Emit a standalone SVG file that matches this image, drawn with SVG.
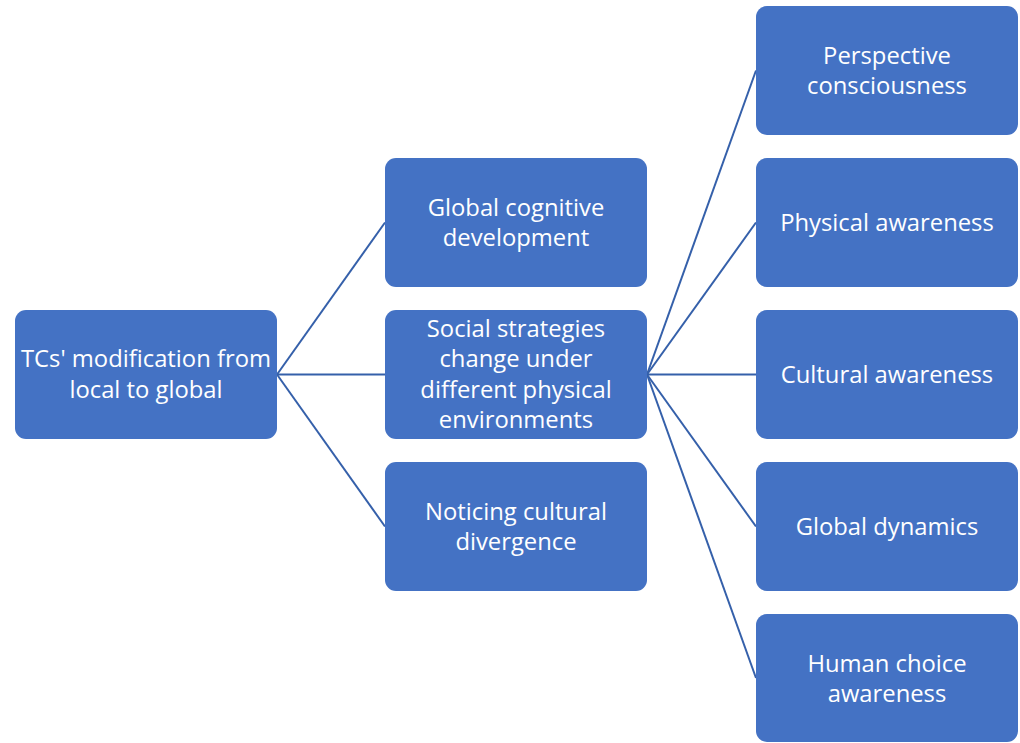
<svg xmlns="http://www.w3.org/2000/svg" width="1020" height="743" viewBox="0 0 1020 743">
  <style>
    .box { fill: #4472C4; }
    .lbl { fill: #FFFFFF; font-family: "Open Sans", "Noto Sans", sans-serif; font-size: 23.8px; text-anchor: middle; }
    .link { stroke: #3560AA; stroke-width: 2; fill: none; }
  </style>
  <rect width="1020" height="743" fill="#FFFFFF"/>

  <g id="connectors">
    <line class="link" x1="277" y1="374.5" x2="385" y2="222.5"/>
    <line class="link" x1="277" y1="374.5" x2="385" y2="374.5"/>
    <line class="link" x1="277" y1="374.5" x2="385" y2="526.5"/>
    <line class="link" x1="647" y1="374.5" x2="756" y2="70.5"/>
    <line class="link" x1="647" y1="374.5" x2="756" y2="222.5"/>
    <line class="link" x1="647" y1="374.5" x2="756" y2="374.5"/>
    <line class="link" x1="647" y1="374.5" x2="756" y2="526.5"/>
    <line class="link" x1="647" y1="374.5" x2="756" y2="678"/>
  </g>

  <g id="root">
    <rect class="box" x="15" y="310" width="262" height="129" rx="11"/>
    <text class="lbl" x="146" y="367">TCs' modification from</text>
    <text class="lbl" x="146" y="398">local to global</text>
  </g>

  <g id="global-cognitive">
    <rect class="box" x="385" y="158" width="262" height="129" rx="11"/>
    <text class="lbl" x="516" y="216">Global cognitive</text>
    <text class="lbl" x="516" y="246">development</text>
  </g>

  <g id="social-strategies">
    <rect class="box" x="385" y="310" width="262" height="129" rx="11"/>
    <text class="lbl" x="516" y="337">Social strategies</text>
    <text class="lbl" x="516" y="367">change under</text>
    <text class="lbl" x="516" y="398">different physical</text>
    <text class="lbl" x="516" y="428">environments</text>
  </g>

  <g id="cultural-divergence">
    <rect class="box" x="385" y="462" width="262" height="129" rx="11"/>
    <text class="lbl" x="516" y="520">Noticing cultural</text>
    <text class="lbl" x="516" y="550">divergence</text>
  </g>

  <g id="perspective">
    <rect class="box" x="756" y="6" width="262" height="129" rx="11"/>
    <text class="lbl" x="887" y="64">Perspective</text>
    <text class="lbl" x="887" y="94">consciousness</text>
  </g>

  <g id="physical">
    <rect class="box" x="756" y="158" width="262" height="129" rx="11"/>
    <text class="lbl" x="887" y="231">Physical awareness</text>
  </g>

  <g id="cultural">
    <rect class="box" x="756" y="310" width="262" height="129" rx="11"/>
    <text class="lbl" x="887" y="383">Cultural awareness</text>
  </g>

  <g id="global-dynamics">
    <rect class="box" x="756" y="462" width="262" height="129" rx="11"/>
    <text class="lbl" x="887" y="535">Global dynamics</text>
  </g>

  <g id="human-choice">
    <rect class="box" x="756" y="614" width="262" height="128" rx="11"/>
    <text class="lbl" x="887" y="672">Human choice</text>
    <text class="lbl" x="887" y="702">awareness</text>
  </g>
</svg>
